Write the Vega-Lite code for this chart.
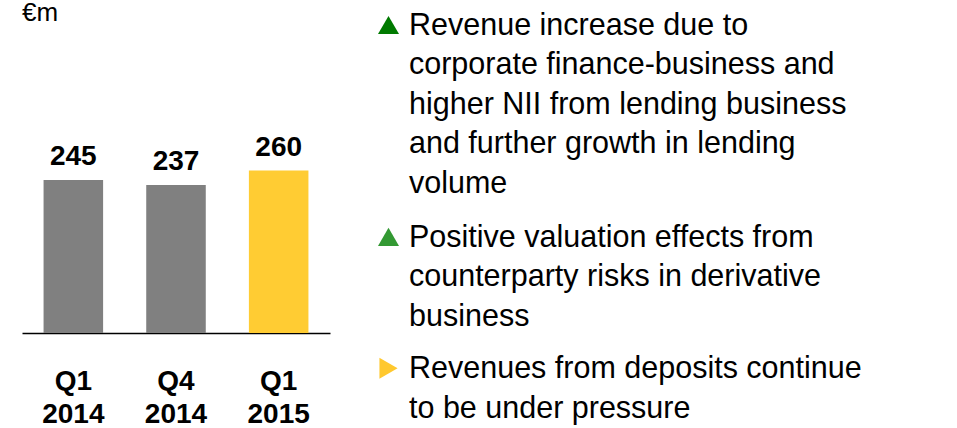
{
  "$schema": "https://vega.github.io/schema/vega-lite/v6.json",
  "padding": {"left": 22, "top": 0, "right": 0, "bottom": 0},
  "background": "white",
  "bounds": "flush",
  "spacing": 48,
  "resolve": {"scale": {"color": "independent", "shape": "independent"}},
  "config": {
    "font": "Liberation Sans",
    "view": {"stroke": null},
    "title": {"font": "Liberation Sans", "color": "black"}
  },
  "datasets": {
    "bars": [
      {"period": "Q1 2014", "revenue": 245},
      {"period": "Q4 2014", "revenue": 237},
      {"period": "Q1 2015", "revenue": 260}
    ],
    "bullets": [
      {"pos": 0, "signal": "strong increase", "shape": "triangle-up", "text": "Revenue increase due to|corporate finance-business and|higher NII from lending business|and further growth in lending|volume"},
      {"pos": 5.38, "signal": "increase", "shape": "triangle-up", "text": "Positive valuation effects from|counterparty risks in derivative|business"},
      {"pos": 8.71, "signal": "neutral", "shape": "triangle-right", "text": "Revenues from deposits continue|to be under pressure"}
    ]
  },
  "hconcat": [
    {
      "width": 308,
      "height": 300,
      "title": {"text": "€m", "anchor": "start", "fontSize": 26, "fontWeight": "normal", "offset": 7},
      "data": {"name": "bars"},
      "encoding": {
        "x": {
          "field": "period",
          "type": "nominal",
          "sort": null,
          "scale": {"paddingInner": 0.42, "paddingOuter": 0.21},
          "axis": {
            "title": null,
            "ticks": false,
            "labelAngle": 0,
            "labelExpr": "split(datum.label, ' ')",
            "labelFontSize": 28,
            "labelFontWeight": "bold",
            "labelColor": "black",
            "labelBaseline": "alphabetic",
            "labelPadding": 56,
            "labelLineHeight": 33,
            "domainColor": "black",
            "domainWidth": 1.5
          }
        },
        "y": {
          "field": "revenue",
          "type": "quantitative",
          "scale": {"domain": [0, 480], "nice": false},
          "axis": null
        }
      },
      "layer": [
        {
          "mark": {"type": "bar"},
          "encoding": {
            "color": {
              "field": "period",
              "type": "nominal",
              "scale": {"domain": ["Q1 2014", "Q4 2014", "Q1 2015"], "range": ["#808080", "#808080", "#FFCC33"]},
              "legend": null
            }
          }
        },
        {
          "mark": {"type": "text", "baseline": "alphabetic", "dy": -15, "fontSize": 28, "fontWeight": "bold", "color": "black"},
          "encoding": {"text": {"field": "revenue", "type": "quantitative"}}
        }
      ]
    },
    {
      "width": 575,
      "height": 394,
      "data": {"name": "bullets"},
      "encoding": {
        "x": {"datum": 0, "type": "quantitative", "scale": {"domain": [0, 1]}, "axis": null},
        "y": {"field": "pos", "type": "quantitative", "scale": {"domain": [-0.05, 9.95], "reverse": true, "nice": false, "zero": false}, "axis": null}
      },
      "layer": [
        {
          "mark": {"type": "point", "filled": true, "opacity": 1, "size": 441, "xOffset": 10.5, "yOffset": -10},
          "encoding": {
            "shape": {"field": "shape", "type": "nominal", "scale": null},
            "color": {
              "field": "signal",
              "type": "nominal",
              "scale": {"domain": ["strong increase", "increase", "neutral"], "range": ["#007A00", "#339933", "#FFC82E"]},
              "legend": null
            }
          }
        },
        {
          "mark": {"type": "text", "align": "left", "baseline": "alphabetic", "dx": 31, "fontSize": 30.5, "lineBreak": "|", "lineHeight": 39.4, "color": "black"},
          "encoding": {"text": {"field": "text", "type": "nominal"}}
        }
      ]
    }
  ]
}
